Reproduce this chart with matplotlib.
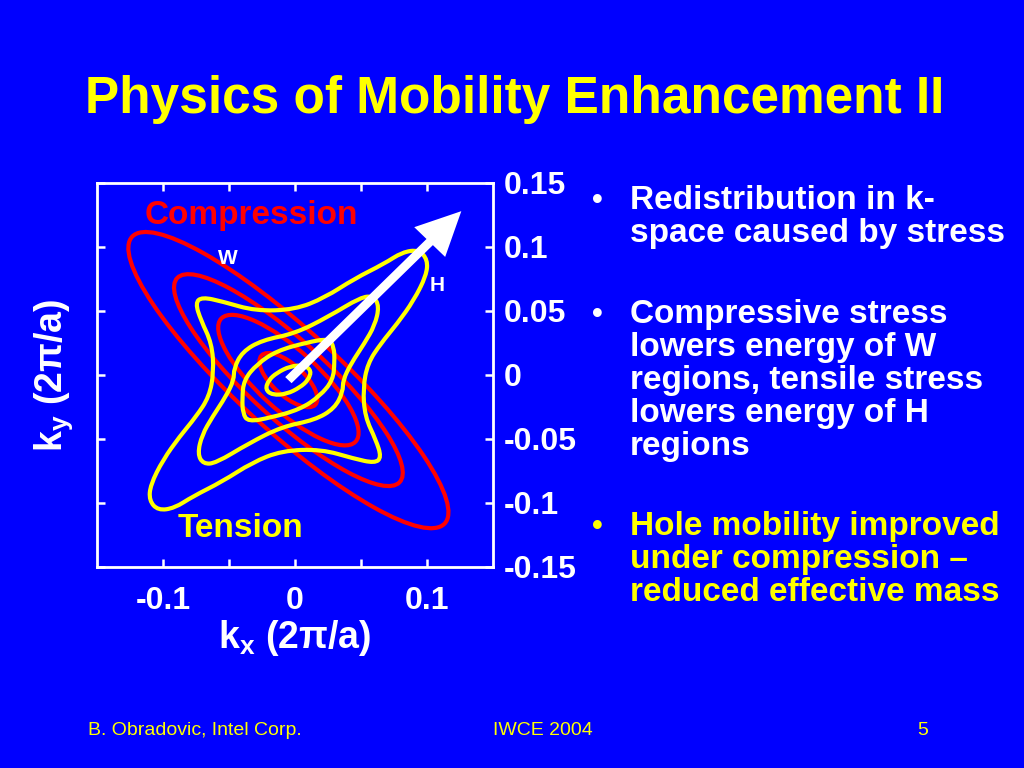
import numpy as np
import matplotlib
matplotlib.use("Agg")
import matplotlib.pyplot as plt
from matplotlib.patches import Ellipse, FancyArrow, PathPatch
from matplotlib.path import Path

plt.rcParams['font.family'] = ['Liberation Sans', 'DejaVu Sans']
plt.rcParams['mathtext.fontset'] = 'custom'
plt.rcParams['mathtext.rm'] = 'Liberation Sans'
plt.rcParams['mathtext.bf'] = 'Liberation Sans:bold'

BLUE = '#0000ff'
YELLOW = '#ffff00'
RED = '#ff0000'

# ---- data ----
# k-space origin of the contours (2pi/a)
k_origin = (-0.005, -0.004)

# compression: elliptical constant-energy contours (semi axes, 2pi/a)
comp_semi_major = [0.163, 0.116, 0.070, 0.028]
comp_semi_minor = [0.039, 0.030, 0.023, 0.012]
comp_angle = -43.5

# tension: warped contours, half loop each (other half by inversion symmetry)
tens_outer = [(0.1045, 0.0818), (0.1055, 0.0940), (0.0988, 0.1018), (0.0863, 0.1000),
              (0.0725, 0.0909), (0.0500, 0.0792), (0.0275, 0.0644), (0.0050, 0.0551),
              (-0.0250, 0.0540), (-0.0495, 0.0613), (-0.0655, 0.0649), (-0.0705, 0.0603),
              (-0.0663, 0.0468), (-0.0580, 0.0286), (-0.0565, 0.0065), (-0.0600, -0.0130),
              (-0.0700, -0.0286), (-0.0825, -0.0442), (-0.0950, -0.0623)]
tens_second = [(0.0413, 0.0), (0.0475, 0.0130), (0.0575, 0.0286), (0.0655, 0.0429),
               (0.0688, 0.0577), (0.0645, 0.0655), (0.0550, 0.0649), (0.0300, 0.0494),
               (0.0050, 0.0364), (-0.0200, 0.0312), (-0.0350, 0.0221), (-0.0413, 0.0091)]
tens_third = [(0.0338, 0.0), (0.0350, 0.0143), (0.0345, 0.0260), (0.0305, 0.0325),
              (0.0138, 0.0294), (-0.0088, 0.0229), (-0.0238, 0.0125)]
tens_inner = [(0.0175, 0.0073), (0.0120, 0.0117), (0.0013, 0.0109),
              (-0.0088, 0.0057), (-0.0150, 0.0)]
tension_halves = [tens_outer, tens_second, tens_third, tens_inner]

# arrow along H direction
arrow_tip = (0.126, 0.128)

xticks = [-0.1, -0.05, 0, 0.05, 0.1]
xticklabels = ['-0.1', '', '0', '', '0.1']
yticks = [-0.15, -0.1, -0.05, 0, 0.05, 0.1, 0.15]
yticklabels = ['-0.15', '-0.1', '-0.05', '0', '0.05', '0.1', '0.15']

title = 'Physics of Mobility Enhancement II'
bullets = [
    (['Redistribution in k-', 'space caused by stress'], 'white'),
    (['Compressive stress', 'lowers energy of W', 'regions, tensile stress',
      'lowers energy of H', 'regions'], 'white'),
    (['Hole mobility improved', 'under compression \u2013', 'reduced effective mass'], YELLOW),
]
footer = ['B. Obradovic, Intel Corp.', 'IWCE 2004', '5']


def closed_curve(pts):
    # closed quadratic b-spline through the read points
    pts = np.asarray(pts)
    mids = (pts + np.roll(pts, -1, axis=0)) / 2
    verts = [mids[-1]]
    codes = [Path.MOVETO]
    for i in range(len(pts)):
        verts += [pts[i], mids[i]]
        codes += [Path.CURVE3, Path.CURVE3]
    return Path(verts, codes)


W, H = 1024, 768
fig = plt.figure(figsize=(10.24, 7.68), dpi=100, facecolor=BLUE)
ax = fig.add_axes([97 / W, 1 - 567 / H, 396 / W, 384 / H])
ax.set_facecolor(BLUE)
ax.set_xlim(-0.15, 0.15)
ax.set_ylim(-0.15, 0.15)

for a, b in zip(comp_semi_major, comp_semi_minor):
    ax.add_patch(Ellipse(k_origin, 2 * a, 2 * b, angle=comp_angle, fill=False,
                         edgecolor=RED, lw=3, zorder=2))

for half in tension_halves:
    half = np.asarray(half)
    loop = np.vstack([half, -half]) + np.asarray(k_origin)
    ax.add_patch(PathPatch(closed_curve(loop), fill=False, edgecolor=YELLOW,
                           lw=3, zorder=3))

ax.add_patch(FancyArrow(k_origin[0], k_origin[1],
                        arrow_tip[0] - k_origin[0], arrow_tip[1] - k_origin[1],
                        width=0.0068, head_width=0.033, head_length=0.034,
                        length_includes_head=True, color='white', lw=0, zorder=4))

ax.text(-0.033, 0.1245, 'Compression', color=RED, fontsize=24, fontweight='bold',
        ha='center', va='center', zorder=5)
ax.text(-0.041, -0.120, 'Tension', color=YELLOW, fontsize=24, fontweight='bold',
        ha='center', va='center', zorder=5)
ax.text(-0.051, 0.091, 'W', color='white', fontsize=15, fontweight='bold',
        ha='center', va='center', zorder=5)
ax.text(0.1076, 0.070, 'H', color='white', fontsize=15, fontweight='bold',
        ha='center', va='center', zorder=5)

for sp in ax.spines.values():
    sp.set_color('white')
    sp.set_linewidth(2)

ax.set_xticks(xticks, xticklabels, fontweight='bold')
ax.set_yticks(yticks, yticklabels, fontweight='bold')
ax.tick_params(axis='both', direction='in', length=6, width=1.8, colors='white',
               top=True, right=True, left=True, bottom=True, labelsize=23)
ax.tick_params(axis='y', labelleft=False, labelright=True, pad=8)
ax.tick_params(axis='x', pad=14)

ax.set_xlabel('k$_\\mathbf{x}$ (2\u03c0/a)', fontsize=27,
              fontweight='bold', color='white', labelpad=1)
ax.set_ylabel('k$_\\mathbf{y}$ (2\u03c0/a)', fontsize=27,
              fontweight='bold', color='white', labelpad=16)

fig.text(515 / W, 1 - 113 / H, title, ha='center', va='baseline', fontsize=37,
         fontweight='bold', color=YELLOW)

first_baselines = [209, 323, 535]
for (lines, col), y0 in zip(bullets, first_baselines):
    fig.text(597 / W, 1 - y0 / H, '\u2022', ha='center', va='baseline', fontsize=22,
             fontweight='bold', color=col)
    for i, line in enumerate(lines):
        fig.text(630 / W, 1 - (y0 + 33 * i) / H, line, ha='left', va='baseline',
                 fontsize=24, fontweight='bold', color=col)

fig.text(88 / W, 1 - 735 / H, footer[0], ha='left', va='baseline', fontsize=14, color=YELLOW)
fig.text(543 / W, 1 - 735 / H, footer[1], ha='center', va='baseline', fontsize=14, color=YELLOW)
fig.text(923 / W, 1 - 735 / H, footer[2], ha='center', va='baseline', fontsize=14, color=YELLOW)

fig.savefig('out.png', dpi=100, facecolor=BLUE)
